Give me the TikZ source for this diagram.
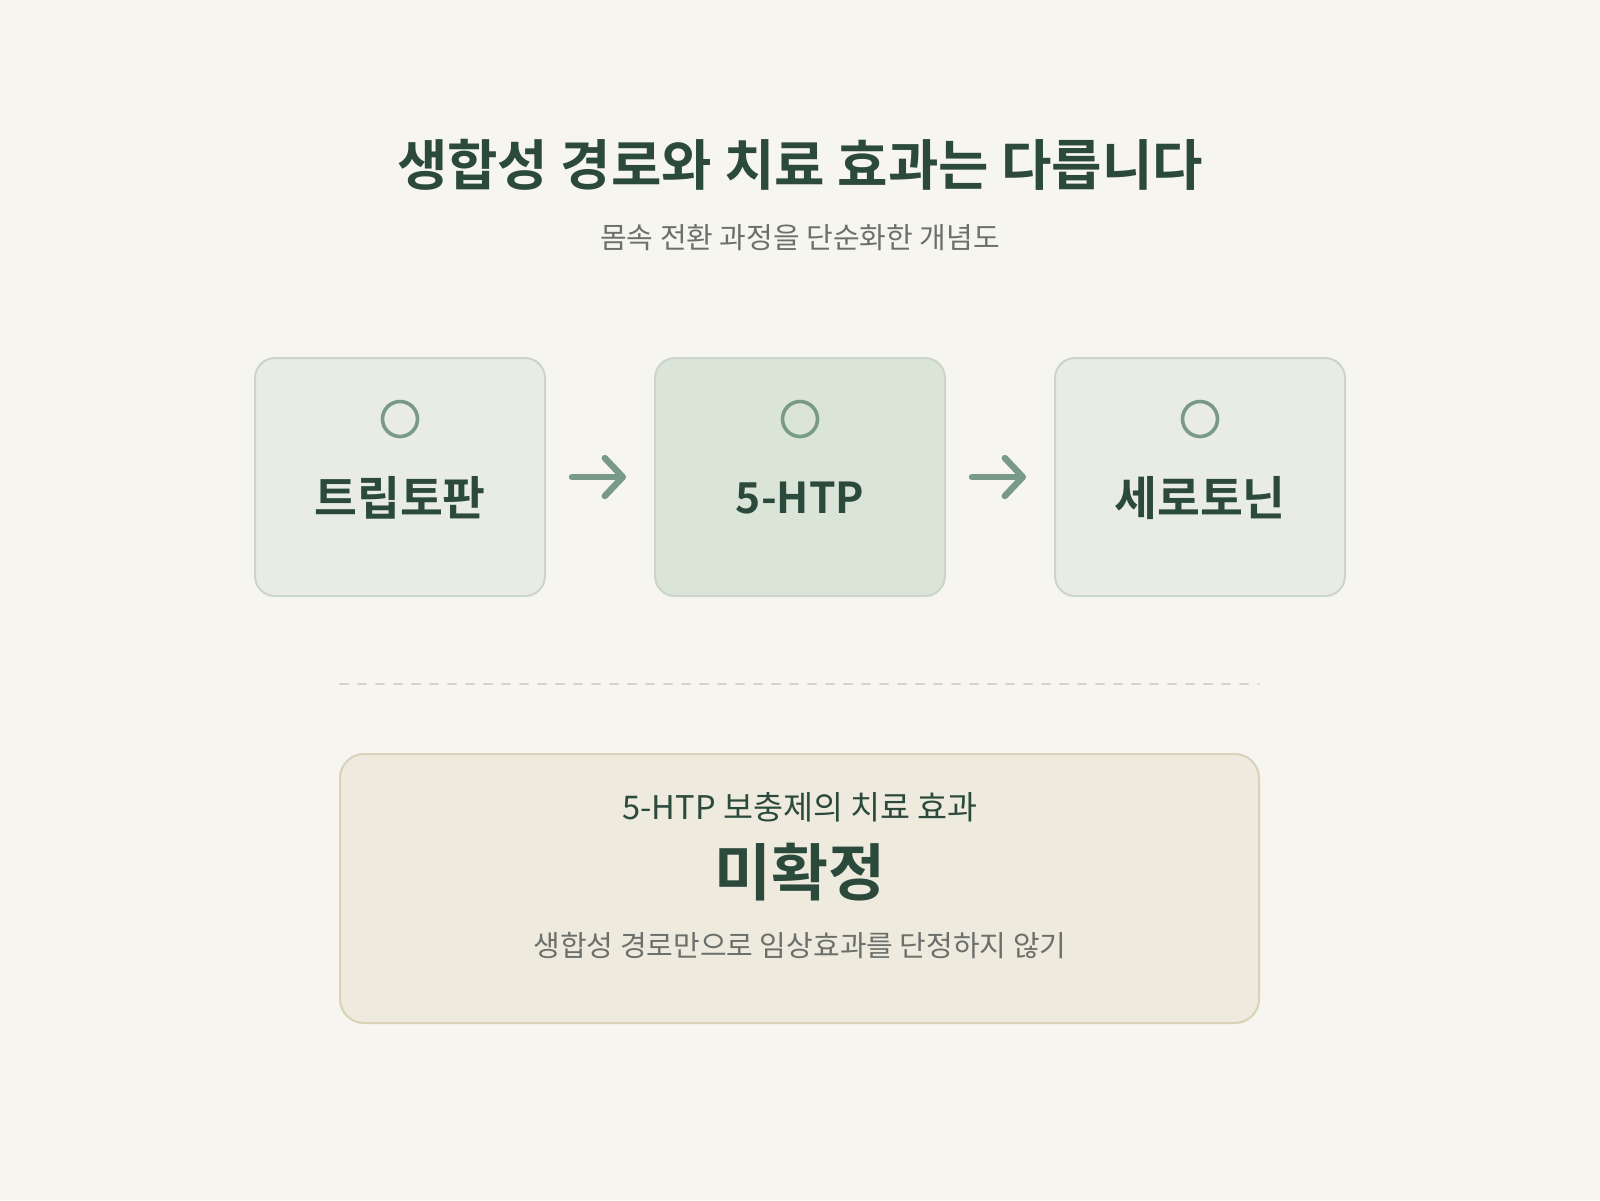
\documentclass[tikz,border=0pt]{standalone}
\usepackage{fontspec}
\setmainfont{Noto Sans CJK KR}
\newfontfamily\krbold{Noto Sans CJK KR Bold}
\usetikzlibrary{arrows.meta}
\definecolor{bg}{HTML}{F7F5EF}
\definecolor{ink}{HTML}{2B4A3B}
\definecolor{grayink}{HTML}{6B706B}
\definecolor{sage}{HTML}{7A9A88}
\definecolor{boxfill}{HTML}{E8ECE4}
\definecolor{boxmid}{HTML}{DAE5D8}
\definecolor{boxline}{HTML}{CCD5CA}
\definecolor{notefill}{HTML}{EEEADE}
\definecolor{noteline}{HTML}{D9D1BA}
\definecolor{dashcol}{HTML}{D6D3CA}
\begin{document}
\begin{tikzpicture}[x=0.5pt,y=-0.5pt,line join=round,line cap=round,
	stepbox/.style={draw=boxline,fill=boxfill,line width=1pt,rounded corners=10pt,
		minimum width=145pt,minimum height=119pt,inner sep=0pt},
	ring/.style={draw=sage,line width=1.8pt,circle,minimum size=17.5pt,inner sep=0pt},
	lbl/.style={text=ink,font=\krbold\fontsize{23.3}{26}\selectfont},
	flow/.style={draw=sage,line width=3.2pt,-{Straight Barb[length=9pt,width=19pt,line cap=round,line join=round]}}]
	\fill[bg] (0,0) rectangle (1600,1200);
	\useasboundingbox (0,0) rectangle (1600,1200);
	% heading
	\node[text=ink,font=\krbold\fontsize{27.4}{32}\selectfont] (title) at (800,165) {생합성 경로와 치료 효과는 다릅니다};
	\node[text=grayink,font=\fontsize{14.5}{17}\selectfont] (sub) at (800,238) {몸속 전환 과정을 단순화한 개념도};
	% pathway
	\node[stepbox] (trp) at (400,477) {};
	\node[stepbox,fill=boxmid] (htp) at (800,477) {};
	\node[stepbox] (ser) at (1200,477) {};
	\foreach \n/\t/\s in {trp/트립토판/23.3,htp/5-HTP/21.3,ser/세로토닌/23.3}{
		\node[ring] (\n c) at ([yshift=29pt]\n.center) {};
		\node[lbl,font=\krbold\fontsize{\s}{26}\selectfont] (\n t) at ([yshift=-10.5pt]\n.center) {\t};
	}
	\draw[flow,shorten <=13pt,shorten >=14pt] (trp.east) -- (htp.west);
	\draw[flow,shorten <=13pt,shorten >=14pt] (htp.east) -- (ser.west);
	% divider
	\coordinate (dl) at (340,684); \coordinate (dr) at (1259,684);
	\draw[dashcol,line width=1pt,dash pattern=on 4pt off 5pt] (dl) -- (dr);
	% note
	\node[draw=noteline,fill=notefill,line width=1pt,rounded corners=12pt,
		minimum width=459.5pt,minimum height=134.5pt] (note) at (799.5,888.5) {};
	\node[text=ink,font=\fontsize{16.3}{19}\selectfont] (effect) at (800,807) {5-HTP 보충제의 치료 효과};
	\node[text=ink,font=\krbold\fontsize{31}{35}\selectfont] (verdict) at (800,872) {미확정};
	\node[text=grayink,font=\fontsize{14.5}{17}\selectfont] (hint) at (800,946) {생합성 경로만으로 임상효과를 단정하지 않기};
\end{tikzpicture}
\end{document}
